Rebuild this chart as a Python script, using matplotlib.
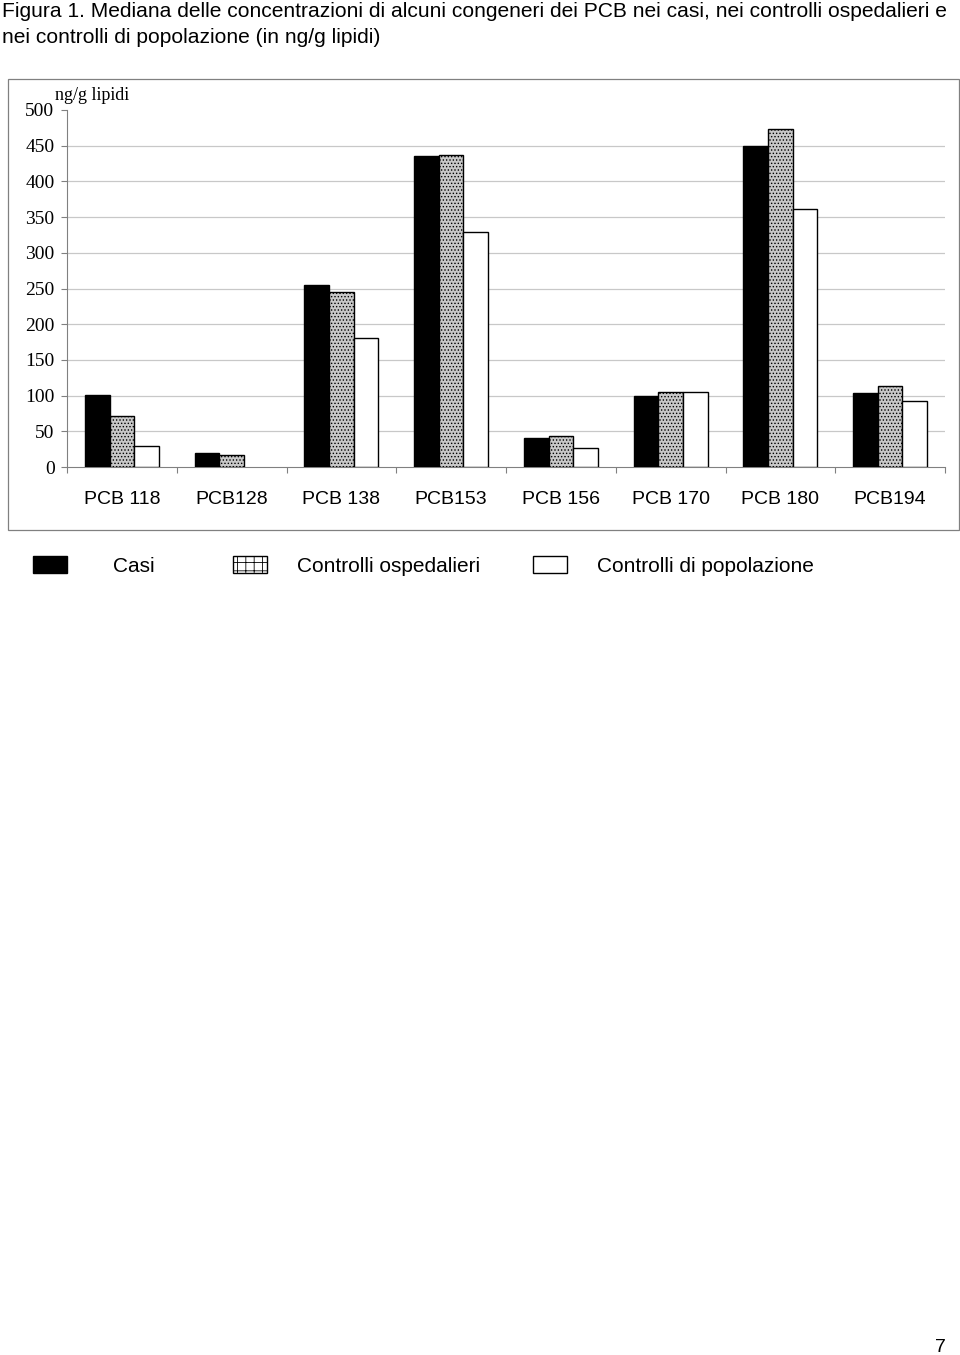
import numpy as np
import matplotlib
matplotlib.use("Agg")
import matplotlib.pyplot as plt
from matplotlib.patches import Rectangle, Patch

# dati
categorie = ["PCB 118", "PCB128", "PCB 138", "PCB153", "PCB 156", "PCB 170", "PCB 180", "PCB194"]
casi = [101, 20, 255, 436, 40, 99, 450, 103]
ospedalieri = [71, 17, 245, 437, 44, 105, 474, 114]
popolazione = [30, 0, 180, 329, 26, 105, 362, 93]
serie_nomi = ["Casi", "Controlli ospedalieri", "Controlli di popolazione"]
yticks = [0, 50, 100, 150, 200, 250, 300, 350, 400, 450, 500]

titolo = ("Figura 1. Mediana delle concentrazioni di alcuni congeneri dei PCB nei casi, nei controlli ospedalieri e\n"
          "nei controlli di popolazione (in ng/g lipidi)")

plt.rcParams['hatch.linewidth'] = 0.6
sans = ['Liberation Sans', 'DejaVu Sans']
serif = ['Liberation Serif', 'DejaVu Serif']

W, H = 960, 1355
fig = plt.figure(figsize=(W / 100, H / 100), dpi=100)

def fx(px):
    return px / W

def fy(py):
    return 1 - py / H

# titolo
fig.text(fx(2), fy(2), titolo, ha='left', va='top', fontsize=15.1, family=sans,
         linespacing=1.45)

# cornice del grafico
fig.patches.append(Rectangle((fx(8), fy(530)), fx(951), (530 - 79) / H,
                             transform=fig.transFigure, fill=False,
                             edgecolor='#808080', linewidth=0.9))

ax = fig.add_axes([fx(67), fy(467), (945 - 67) / W, (467 - 110) / H])
x = np.arange(len(categorie))
w = 0.225
grigio = '#808080'

b1 = ax.bar(x - w, casi, w, color='black', edgecolor='black', linewidth=1.0, zorder=3)
b2 = ax.bar(x, ospedalieri, w, color='#c8c8c8', edgecolor='black', hatch='.....',
            linewidth=1.0, zorder=3)
b3 = ax.bar(x + w, [v if v > 0 else np.nan for v in popolazione], w, color='white',
            edgecolor='black', linewidth=1.0, zorder=3)

for yv in yticks[1:-1]:
    ax.axhline(yv, color='#c8c8c8', linewidth=0.9, zorder=1)

ax.set_xlim(-0.5, len(categorie) - 0.5)
ax.set_ylim(0, 500)
ax.set_yticks(yticks)
ax.set_yticklabels([str(v) for v in yticks], family=serif, fontsize=14)
ax.set_xticks(x)
ax.set_xticklabels(categorie, family=sans, fontsize=14)
ax.set_xticks(np.arange(-0.5, len(categorie)), minor=True)
ax.tick_params(axis='x', which='major', length=0, pad=17.5)
ax.tick_params(axis='x', which='minor', length=4, color=grigio, width=0.8, direction='out')
ax.tick_params(axis='y', length=4, color=grigio, width=0.8, pad=5)
for s in ['top', 'right']:
    ax.spines[s].set_visible(False)
ax.spines['left'].set_color(grigio)
ax.spines['bottom'].set_color(grigio)
ax.spines['left'].set_linewidth(0.8)
ax.spines['bottom'].set_linewidth(0.8)

ax.text(fx(55), fy(96), "ng/g lipidi", transform=fig.transFigure, ha='left',
        va='center', family=serif, fontsize=13)

# legenda: tre voci posizionate come nell'originale
handles = [Patch(facecolor='black', edgecolor='black'),
           Patch(facecolor='white', edgecolor='black', hatch='++'),
           Patch(facecolor='white', edgecolor='black')]
voce_x = [33, 233, 533]
voce_pad = [2.2, 1.45, 1.45]
for h, nome, xx, pad in zip(handles, serie_nomi, voce_x, voce_pad):
    fig.legend([h], [nome], loc='center left', bbox_to_anchor=(fx(xx), fy(566)),
               frameon=False, prop={'family': sans, 'size': 15},
               handlelength=1.63, handleheight=0.87, handletextpad=pad,
               borderpad=0, borderaxespad=0)

# numero pagina
fig.text(fx(940), fy(1347), "7", ha='center', va='center', fontsize=14, family=sans)

fig.savefig("out.png", dpi=100)
